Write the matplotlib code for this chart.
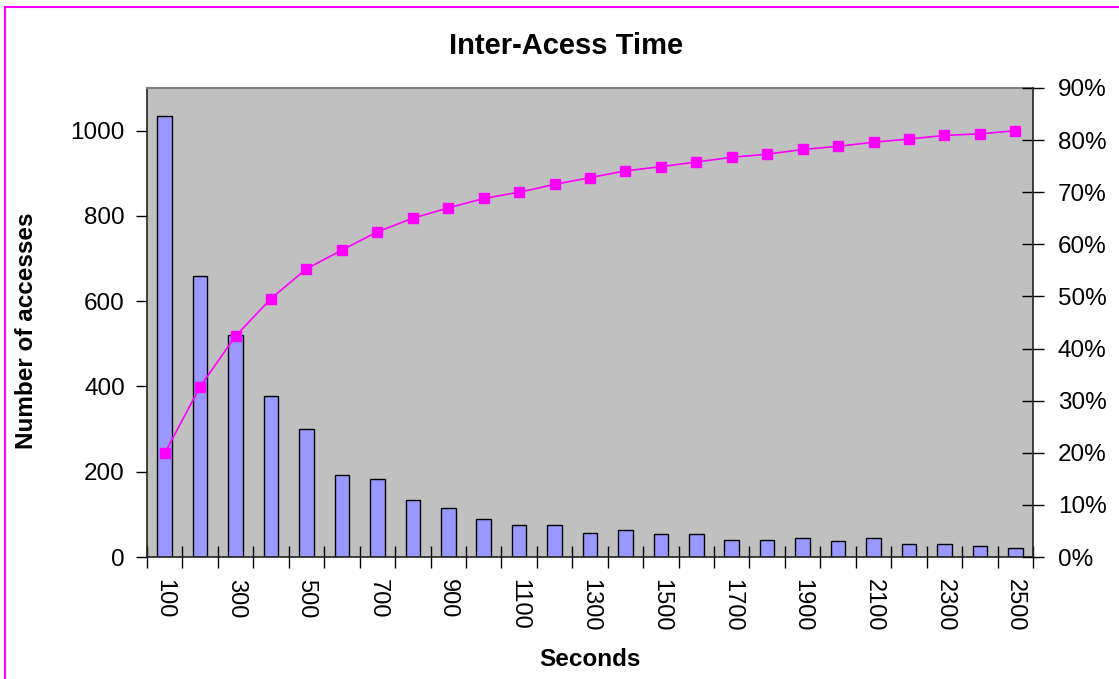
import matplotlib
matplotlib.use("Agg")
import matplotlib.pyplot as plt
from matplotlib.lines import Line2D
from matplotlib.ticker import FuncFormatter, FixedLocator
import numpy as np

plt.rcParams['font.family'] = ['Liberation Sans', 'DejaVu Sans']

seconds = [100, 200, 300, 400, 500, 600, 700, 800, 900, 1000, 1100, 1200, 1300,
           1400, 1500, 1600, 1700, 1800, 1900, 2000, 2100, 2200, 2300, 2400, 2500]
accesses = [1034, 658, 521, 378, 300, 192, 182, 134, 114, 88, 74, 74, 56,
            63, 53, 53, 41, 41, 45, 37, 45, 30, 30, 25, 22]
cumulative_pct = [19.9, 32.7, 42.4, 49.6, 55.3, 58.9, 62.4, 65.0, 67.0, 68.8, 70.0, 71.5, 72.8,
                  74.1, 74.9, 75.8, 76.7, 77.3, 78.2, 78.8, 79.6, 80.2, 80.9, 81.2, 81.8]

W, H = 1119, 679
fig = plt.figure(figsize=(W / 100, H / 100), dpi=100)
fig.patch.set_facecolor('white')

L, R, T, B = 147, 1033, 88, 557
ax = fig.add_axes([L / W, 1 - B / H, (R - L) / W, (B - T) / H])
ax.set_facecolor('#C0C0C0')

x = np.arange(len(seconds))
ax.bar(x, accesses, width=0.41, color='#9999FF', edgecolor='black', linewidth=1.0, zorder=2)
ax.set_xlim(-0.5, len(seconds) - 0.5)
ax.set_ylim(0, 1100)
ax.set_yticks([0, 200, 400, 600, 800, 1000])
ax.tick_params(axis='y', direction='out', length=8, width=1, labelsize=17.5, pad=8, colors='black')

# x labels at every other category center, tick marks at category boundaries
ax.xaxis.set_major_locator(FixedLocator(x[::2]))
ax.set_xticklabels([str(s) for s in seconds[::2]], rotation=-90)
ax.tick_params(axis='x', which='major', length=0, labelsize=17, pad=16)
ax.xaxis.set_minor_locator(FixedLocator(np.arange(-0.5, len(seconds), 1.0)))
ax.tick_params(axis='x', which='minor', direction='inout', length=16, width=1)

for side in ['left', 'bottom']:
    ax.spines[side].set_color('#222222')
    ax.spines[side].set_linewidth(1.2)
ax.spines['top'].set_color('#808080')
ax.spines['top'].set_linewidth(1.5)
ax.spines['right'].set_visible(False)

ax2 = ax.twinx()
ax2.plot(x, np.array(cumulative_pct) / 100.0, color='#FF00FF', linewidth=1.2,
         marker='s', markersize=7, markerfacecolor='#FF00FF', markeredgecolor='#FF00FF', zorder=3)
ax2.set_ylim(0, 0.9)
ax2.set_yticks(np.arange(0, 0.91, 0.1))
ax2.yaxis.set_major_formatter(FuncFormatter(lambda v, p: f"{int(round(v * 100))}%"))
ax2.tick_params(axis='y', direction='inout', length=16, width=1, labelsize=17.5, pad=10)
ax2.spines['right'].set_color('#222222')
ax2.spines['right'].set_linewidth(1.2)
for side in ['left', 'top', 'bottom']:
    ax2.spines[side].set_visible(False)
ax2.set_xlim(-0.5, len(seconds) - 0.5)

fig.text(566 / W, 1 - 46 / H, 'Inter-Acess Time', ha='center', va='center',
         fontsize=21, fontweight='bold')
fig.text(27 / W, 1 - 331 / H, 'Number of accesses', ha='center', va='center',
         rotation=90, fontsize=17.5, fontweight='bold')
fig.text(590 / W, 1 - 659 / H, 'Seconds', ha='center', va='center',
         fontsize=17.5, fontweight='bold')

# magenta frame lines (top and left)
fig.add_artist(Line2D([5 / W, 1.0], [1 - 6.5 / H, 1 - 6.5 / H], color='#FF00FF',
                      linewidth=1.5, transform=fig.transFigure))
fig.add_artist(Line2D([5 / W, 5 / W], [0, 1 - 6.5 / H], color='#FF00FF',
                      linewidth=1.5, transform=fig.transFigure))

fig.savefig('out.png', dpi=100)
